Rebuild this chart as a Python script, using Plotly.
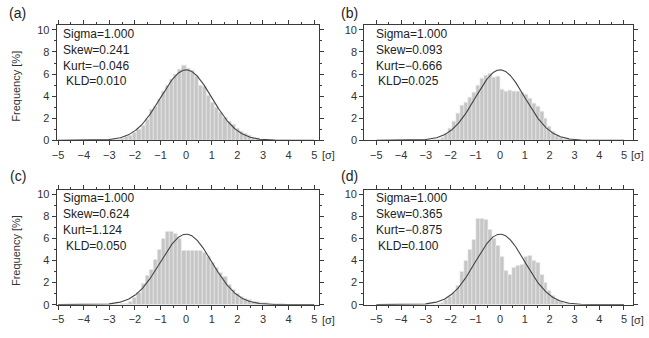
import numpy as np
import plotly.graph_objects as go

W, H = 649, 338
FONT = "Liberation Sans"

# Histogram bins in units of sigma
bin_width = 0.16
bin_centers = np.round(-2.96 + bin_width * np.arange(44), 2)

# Frequencies [%] per bin for the four samples
freq_a = [0.05, 0.08, 0.12, 0.2, 0.32, 0.48, 0.72, 1.0, 1.35, 1.85, 2.8, 3.05, 3.7, 4.4,
          5.0, 5.5, 6.0, 6.4, 6.8, 6.5, 6.3, 5.8, 5.0, 4.9, 4.1, 3.4, 3.0, 2.5, 2.1, 1.7,
          1.4, 1.1, 0.85, 0.6, 0.4, 0.25, 0.15, 0.08, 0.04, 0.02, 0.01, 0, 0, 0]
freq_b = [0.02, 0.03, 0.05, 0.1, 0.25, 0.6, 1.1, 1.7, 2.4, 3.2, 3.4, 3.9, 4.3, 5.0,
          5.6, 5.9, 6.1, 5.7, 5.8, 4.6, 4.4, 4.5, 4.4, 4.4, 4.3, 4.2, 3.8, 3.3, 3.1, 2.6,
          2.0, 1.3, 0.8, 0.45, 0.25, 0.12, 0.05, 0.02, 0.01, 0, 0, 0, 0, 0]
freq_c = [0, 0.01, 0.02, 0.05, 0.1, 0.25, 0.6, 1.1, 1.9, 2.6, 3.2, 4.1, 5.0, 6.0,
          6.6, 6.6, 6.4, 6.0, 4.9, 4.85, 4.85, 4.9, 4.9, 4.7, 4.3, 3.8, 3.3, 2.9, 2.5, 1.8,
          1.35, 1.0, 0.75, 0.55, 0.4, 0.3, 0.22, 0.18, 0.14, 0.1, 0.08, 0.06, 0.04, 0.03]
freq_d = [0, 0, 0.02, 0.05, 0.2, 0.45, 0.7, 1.1, 1.7, 3.0, 4.0, 5.0, 5.9, 7.8,
          7.8, 7.7, 6.8, 6.0, 5.3, 4.3, 3.1, 2.7, 3.3, 3.5, 3.6, 4.3, 4.4, 4.0, 3.8, 2.7,
          2.0, 1.3, 0.8, 0.45, 0.25, 0.12, 0.05, 0.02, 0.01, 0, 0, 0, 0, 0]

panel_labels = ["(a)", "(b)", "(c)", "(d)"]
sigma_vals = [1.000, 1.000, 1.000, 1.000]
skew_vals = [0.241, 0.093, 0.624, 0.365]
kurt_vals = [-0.046, -0.666, 1.124, -0.875]
kld_vals = [0.010, 0.025, 0.050, 0.100]
x_ticks = list(range(-5, 6))
y_ticks = [0, 2, 4, 6, 8, 10]

freqs = [freq_a, freq_b, freq_c, freq_d]

# Reference normal curve with unit sigma, scaled to percent per bin
x_curve = np.linspace(-5, 5, 501)
y_curve = 100 * bin_width * np.exp(-x_curve ** 2 / 2) / np.sqrt(2 * np.pi)

# Panel frames in pixels: (left, right, top, bottom) and x ranges
frames = [(52, 316, 24, 141.7), (362, 633, 24, 141.7),
          (52, 316, 192.3, 310), (362, 633, 192.3, 310)]
x_ranges = [[-5.06, 5.17], [-5.49, 5.37], [-5.06, 5.17], [-5.49, 5.37]]


def px(x):
    return x / W


def py(y):
    return 1 - y / H


LINE = "#3a3a3a"
fig = go.Figure()
annotations = []

for i in range(4):
    n = "" if i == 0 else str(i + 1)
    xa, ya = "x" + n, "y" + n
    l, r, t, b = frames[i]
    fig.add_trace(go.Bar(
        x=bin_centers, y=freqs[i], width=bin_width, xaxis=xa, yaxis=ya,
        marker=dict(color="#c6c6c6", line=dict(color="#ececec", width=0.6)),
        showlegend=False, hoverinfo="skip"))
    fig.add_trace(go.Scatter(
        x=x_curve, y=y_curve, mode="lines", xaxis=xa, yaxis=ya,
        line=dict(color="#444", width=1.1), showlegend=False, hoverinfo="skip"))

    axis_common = dict(
        showline=True, linecolor=LINE, linewidth=1, mirror="ticks",
        ticks="outside", ticklen=4, tickwidth=1, tickcolor=LINE,
        showgrid=False, zeroline=False,
        tickfont=dict(family=FONT, size=11, color="#333"),
    )
    fig.update_layout({
        "xaxis" + n: dict(
            domain=[px(l), px(r)], range=x_ranges[i], anchor=ya,
            tickmode="array", tickvals=x_ticks,
            minor=dict(tickmode="linear", tick0=0, dtick=0.5, ticks="outside",
                       ticklen=2, tickcolor=LINE, showgrid=False),
            **axis_common),
        "yaxis" + n: dict(
            domain=[py(b), py(t)], range=[0, 10.4], anchor=xa,
            tickmode="array", tickvals=y_ticks,
            minor=dict(tickmode="linear", tick0=0, dtick=1, ticks="outside",
                       ticklen=2, tickcolor=LINE, showgrid=False),
            **axis_common),
    })

    # Panel letter
    lab_x = 13 if i % 2 == 0 else 347
    lab_y = 11 if i < 2 else 178
    annotations.append(dict(
        text=panel_labels[i], x=px(lab_x), y=py(lab_y), xref="paper", yref="paper",
        xanchor="center", yanchor="middle", showarrow=False,
        font=dict(family=FONT, size=14, color="#222")))

    # Statistics block
    tx = l + 4.5 if i % 2 == 0 else l + 9.5
    lines = [f"Sigma={sigma_vals[i]:.3f}", f"Skew={skew_vals[i]:.3f}",
             f"Kurt={kurt_vals[i]:.3f}".replace("-", "\u2212"),
             f"KLD={kld_vals[i]:.3f}"]
    for k, txt in enumerate(lines):
        annotations.append(dict(
            text=txt, x=px(tx + (2.5 if k == 3 else 0)), y=py(t + 8.5 + 16.3 * k),
            xref="paper", yref="paper", xanchor="left", yanchor="middle",
            showarrow=False, font=dict(family=FONT, size=12, color="#222")))

    # Unit label at the right end of the x axis
    sx = 326 if i % 2 == 0 else 637
    annotations.append(dict(
        text="[\u03c3]", x=px(sx), y=py(b + 15.5), xref="paper", yref="paper",
        xanchor="center", yanchor="middle", showarrow=False,
        font=dict(family=FONT, size=11, color="#333")))

    # Y-axis title on the left-hand panels
    if i % 2 == 0:
        annotations.append(dict(
            text="Frequency [%]", x=px(11), y=py((t + b) / 2 + 3), xref="paper",
            yref="paper", xanchor="center", yanchor="middle", textangle=-90,
            showarrow=False, font=dict(family=FONT, size=11, color="#333")))

fig.update_layout(
    width=W, height=H, margin=dict(l=0, r=0, t=0, b=0),
    paper_bgcolor="white", plot_bgcolor="white",
    bargap=0, annotations=annotations,
    font=dict(family=FONT),
)

fig.write_html("out.html")
